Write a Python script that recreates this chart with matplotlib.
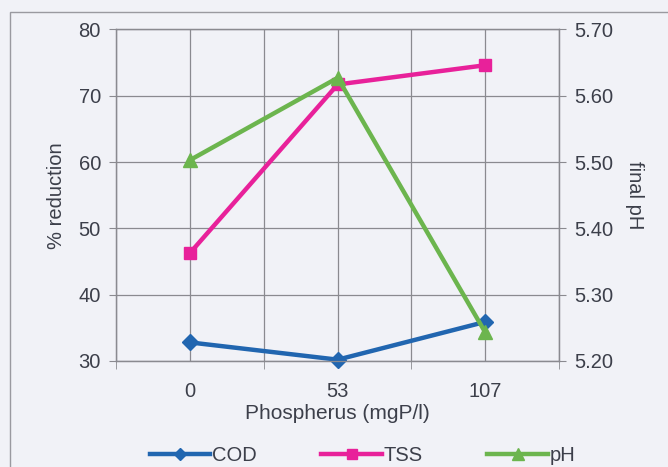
import numpy as np
import matplotlib
matplotlib.use("Agg")
import matplotlib.pyplot as plt
from matplotlib.patches import Rectangle

plt.rcParams['font.family'] = ['Liberation Sans', 'DejaVu Sans']

# ---------- data ----------
phosphorus = ["0", "53", "107"]
cod = [32.8, 30.2, 35.9]
tss = [46.3, 71.7, 74.6]
ph = [5.503, 5.627, 5.243]

BG = "#f1f2f7"
TXT = "#3c3f4a"
GRID = "#8a8a90"
FS = 14.5

fig = plt.figure(figsize=(6.68, 4.67), dpi=100, facecolor=BG)
# outer chart frame
fig.patches.append(Rectangle((0.015, -0.05), 1.2, 1.025, transform=fig.transFigure,
                             fill=False, edgecolor="#9a9aa0", linewidth=1.0))

ax = fig.add_axes([0.174, 0.227, 0.663, 0.71])
ax.set_facecolor(BG)
x = np.arange(len(phosphorus))

ax.set_xlim(-0.5, 2.5)
ax.set_ylim(30, 80)
ax.set_yticks(np.arange(30, 81, 10))
ax.set_xticks(x)
ax.set_xticklabels(phosphorus)
ax.set_xticks(np.arange(-0.5, 2.6, 1.0), minor=True)
ax.tick_params(axis="x", which="major", length=0, pad=15, labelsize=FS, labelcolor=TXT)
ax.tick_params(axis="x", which="minor", length=6, color=GRID, direction="out")
ax.tick_params(axis="y", length=5, color=GRID, labelsize=FS, labelcolor=TXT, pad=6)

# grid at every half category and every 10 %
for gx in np.arange(-0.5, 2.6, 0.5):
    ax.axvline(gx, color=GRID, linewidth=0.9, zorder=0)
for gy in np.arange(30, 81, 10):
    ax.axhline(gy, color=GRID, linewidth=0.9, zorder=0)
for s in ax.spines.values():
    s.set_color(GRID)
    s.set_linewidth(0.9)

ax.set_xlabel("Phospherus (mgP/l)", fontsize=15, color=TXT, labelpad=2)
ax.set_ylabel("% reduction", fontsize=FS, color=TXT, labelpad=9)

l1, = ax.plot(x, cod, color="#2166b0", linewidth=3.2, marker="D", markersize=8,
              label="COD", zorder=3, clip_on=False)
l2, = ax.plot(x, tss, color="#e8219a", linewidth=3.2, marker="s", markersize=9,
              label="TSS", zorder=3, clip_on=False)

ax2 = ax.twinx()
ax2.set_ylim(5.20, 5.70)
ax2.set_yticks(np.arange(5.20, 5.701, 0.10))
ax2.set_yticklabels([f"{v:.2f}" for v in np.arange(5.20, 5.701, 0.10)])
ax2.tick_params(axis="y", length=5, color=GRID, labelsize=FS, labelcolor=TXT, pad=6)
for s in ax2.spines.values():
    s.set_color(GRID)
    s.set_linewidth(0.9)
ax2.set_ylabel("final pH", fontsize=FS, color=TXT, rotation=270, labelpad=22)

l3, = ax2.plot(x, ph, color="#6cb54e", linewidth=3.2, marker="^", markersize=10,
               label="pH", zorder=4, clip_on=False)

fig.legend(handles=[l1, l2, l3], loc="lower center", bbox_to_anchor=(0.543, -0.034),
           ncol=3, frameon=False, fontsize=FS, handlelength=3.0, handletextpad=0.1,
           columnspacing=3.2, labelcolor=TXT, markerscale=0.8)

fig.savefig("out.png", dpi=100, facecolor=BG)
